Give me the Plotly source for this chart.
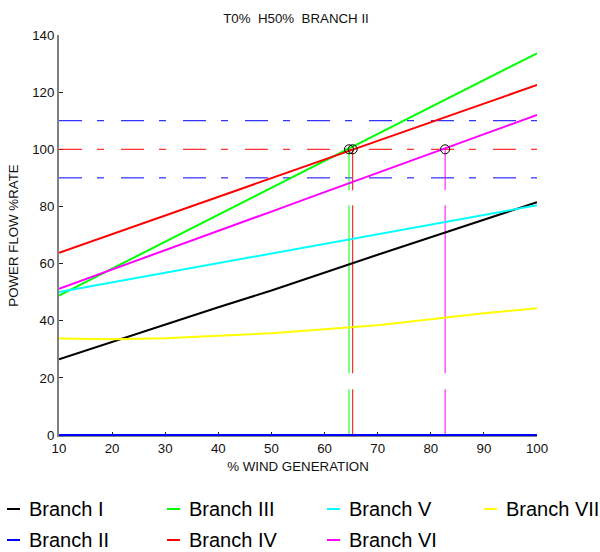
import plotly.graph_objects as go

# ---------------- data ----------------
wind_pct = [10, 20, 30, 40, 50, 60, 70, 80, 90, 100]

branch_names = ["Branch I", "Branch II", "Branch III", "Branch IV",
                "Branch V", "Branch VI", "Branch VII"]
branch_I = [26.5, 32.6, 38.7, 44.7, 50.6, 56.9, 63.1, 69.2, 75.3, 81.5]
branch_II = [0, 0, 0, 0, 0, 0, 0, 0, 0, 0]
branch_III = [48.8, 58.2, 67.5, 76.9, 86.3, 95.8, 105.2, 114.7, 124.1, 133.6]
branch_IV = [63.8, 70.3, 76.9, 83.4, 89.9, 96.4, 103.0, 109.5, 116.0, 122.5]
branch_V = [50.0, 53.4, 56.8, 60.1, 63.6, 67.0, 70.4, 73.8, 77.1, 80.4]
branch_VI = [51.2, 57.9, 64.7, 71.4, 78.2, 85.0, 91.7, 98.5, 105.2, 112.0]
branch_VII = [33.8, 33.5, 33.9, 34.7, 35.6, 37.0, 38.4, 40.5, 42.6, 44.4]

limit_levels = [110, 100, 90]
cross_x = [64.6, 65.3, 82.7]
cross_y = [100, 100, 100]

x_ticks = [10, 20, 30, 40, 50, 60, 70, 80, 90, 100]
y_ticks = [0, 20, 40, 60, 80, 100, 120, 140]

title_text = "T0%  H50%  BRANCH II"
x_title = "% WIND GENERATION"
y_title = "POWER FLOW %RATE"

# ---------------- styles ----------------
series = [branch_I, branch_II, branch_III, branch_IV, branch_V, branch_VI, branch_VII]
colors = ["#000000", "#0000FF", "#00FF00", "#FF0000", "#00FFFF", "#FF00FF", "#FFFF00"]
limit_colors = ["#0000FF", "#FF0000", "#0000FF"]
cross_colors = ["#00FF00", "#FF0000", "#FF00FF"]
FONT = "Arial, 'Liberation Sans', Helvetica, sans-serif"

W, H = 600, 552
ML, MR, MT, MB = 59, 63, 35, 116
PW, PH = W - ML - MR, H - MT - MB

fig = go.Figure()

# horizontal limit lines
for lvl, c in zip(limit_levels, limit_colors):
    fig.add_trace(go.Scatter(x=[wind_pct[0], wind_pct[-1]], y=[lvl, lvl], mode="lines",
                             line=dict(color=c, width=1, dash="23px,15px,7px,17px"),
                             showlegend=False, hoverinfo="skip"))

# vertical drop lines at crossing points
for cx, c in zip(cross_x, cross_colors):
    fig.add_trace(go.Scatter(x=[cx, cx], y=[100, 0], mode="lines",
                             line=dict(color=c, width=1, dash="41px,15px,168px,16px,60px"),
                             showlegend=False, hoverinfo="skip"))

# branch lines
for name, ys, c in zip(branch_names, series, colors):
    fig.add_trace(go.Scatter(x=wind_pct, y=ys, mode="lines", name=name,
                             line=dict(color=c, width=2), showlegend=False))

# crossing markers
fig.add_trace(go.Scatter(x=cross_x, y=cross_y, mode="markers",
                         marker=dict(symbol="circle-open", size=9, color="black",
                                     line=dict(width=1, color="black")),
                         showlegend=False))

# manual legend (column-major, 4 columns x 2 rows)
def px_x(p):
    return (p - ML) / PW

def px_y(p):
    return (MT + PH - p) / PH

col_x = [7, 167, 327, 484]
row_y = [509, 540]
shapes = []
annotations = []
for i, (name, c) in enumerate(zip(branch_names, colors)):
    col, row = i // 2, i % 2
    x0 = col_x[col]
    y0 = row_y[row]
    shapes.append(dict(type="line", xref="paper", yref="paper",
                       x0=px_x(x0), x1=px_x(x0 + 13), y0=px_y(y0), y1=px_y(y0),
                       line=dict(color=c, width=2)))
    annotations.append(dict(xref="paper", yref="paper", x=px_x(x0 + 20), y=px_y(y0),
                            xanchor="left", yanchor="middle", text=name,
                            showarrow=False, font=dict(size=20, color="black", family=FONT)))

fig.update_layout(
    width=W, height=H,
    margin=dict(l=ML, r=MR, t=MT, b=MB, pad=0),
    paper_bgcolor="white", plot_bgcolor="white",
    font=dict(family=FONT, size=13.3, color="#111111"),
    title=dict(text=title_text, x=(296 - ML) / PW, xref="paper", xanchor="center",
               y=1 - 18 / H, yref="container", yanchor="middle",
               font=dict(size=13.3, color="#111111")),
    shapes=shapes,
    annotations=annotations,
    xaxis=dict(range=[10, 100], tickvals=x_ticks, ticks="inside", ticklen=4,
               tickcolor="#222222", showline=True, linecolor="#808080", linewidth=1,
               showgrid=False, zeroline=False, layer="below traces",
               title=dict(text=x_title, standoff=6, font=dict(size=13.3))),
    yaxis=dict(range=[-0.35, 140], tickvals=y_ticks, ticks="inside", ticklen=4,
               tickcolor="#222222", showline=True, linecolor="#808080", linewidth=2,
               showgrid=False, zeroline=False, layer="below traces",
               title=dict(text=y_title, standoff=10, font=dict(size=13.3))),
)

fig.write_html("out.html", config={"displayModeBar": False},
               post_script="document.body.style.margin='0';document.body.style.overflow='hidden';")
